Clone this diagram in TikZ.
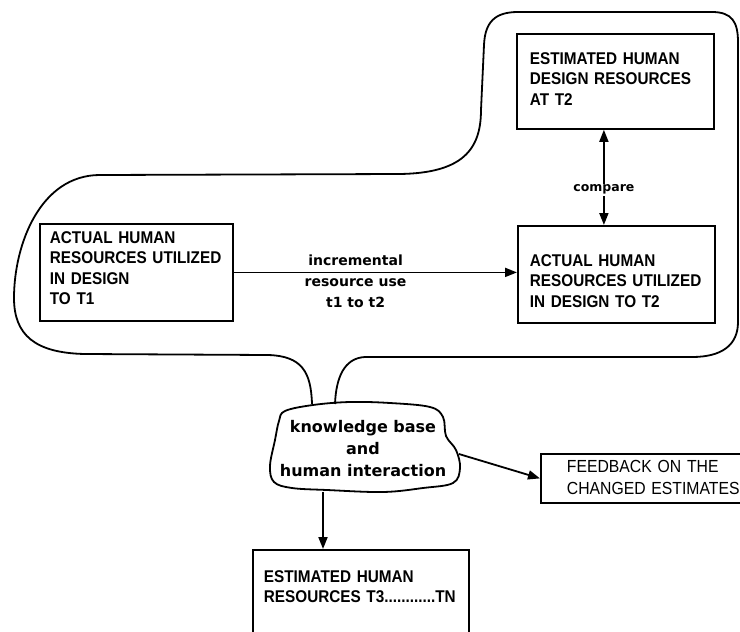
\documentclass[tikz,border=0pt]{standalone}
\usepackage{fontspec}
\setmainfont{Liberation Sans}
\newfontfamily\capsfont[FakeStretch=0.9]{Liberation Sans}
\newfontfamily\kbfont{DejaVu Sans}
\usetikzlibrary{arrows.meta}

\begin{document}
\begin{tikzpicture}[
  x=1pt, y=-1pt,
  line width=1.8pt,
  >={Triangle[length=12pt,width=9pt]},
  rbox/.style={draw,anchor=north west,align=left,inner ysep=0pt,
    font=\capsfont\bfseries\fontsize{17}{20.5}\selectfont},
  lbl/.style={font=\kbfont\bfseries\fontsize{14}{21}\selectfont,align=center},
  kbtext/.style={font=\kbfont\bfseries\fontsize{16}{22}\selectfont,align=center,
    minimum width=190pt,minimum height=90pt,inner sep=0pt}
]
\useasboundingbox (0,0) rectangle (740,632);
\clip (0,0) rectangle (740,632);

% boxes
\node[rbox,inner xsep=10pt,text width=173pt,text height=19.5pt,text depth=77.5pt] (act1) at (39,223) {ACTUAL HUMAN\\RESOURCES UTILIZED\\IN DESIGN\\TO T1};
\node[rbox,inner xsep=13pt,text width=171pt,text height=30.5pt,text depth=64.5pt] (est2) at (516,33) {ESTIMATED HUMAN\\DESIGN RESOURCES\\AT T2};
\node[rbox,inner xsep=12pt,text width=173pt,text height=40.5pt,text depth=56.5pt] (act2) at (517,225) {ACTUAL HUMAN\\RESOURCES UTILIZED\\IN DESIGN TO T2};
\node[rbox,inner xsep=11pt,text width=194pt,text height=32.5pt,text depth=80pt] (est3) at (252,549) {ESTIMATED HUMAN\\RESOURCES T3............TN};
\node[rbox,font=\capsfont\fontsize{17.5}{22}\selectfont,inner xsep=26pt,text width=230pt,text height=18.5pt,text depth=30.5pt] (fb) at (540,453) {FEEDBACK ON THE\\CHANGED ESTIMATES};

% knowledge base cloud
\node[kbtext] (kb) at (363,449) {knowledge base\\and\\human interaction};
\draw plot[smooth cycle,tension=0.6] coordinates {(285,411) (313,405) (350,402) (390,403) (430,407) (443,417) (446,436) (456,450) (460,468) (453,483) (423,488) (383,492) (327,490) (292,488) (274,482) (270,466) (275,440) (279,421)};

% outer loop
\draw (312,404) .. controls (311,372) and (302,356) .. (268,355)
  -- (85,354) .. controls (35,353) and (14,335) .. (14,298)
  .. controls (14,245) and (40,175) .. (100,175)
  -- (400,174) .. controls (462,173) and (481,150) .. (481,110)
  -- (484,45) .. controls (485,22) and (495,12) .. (518,12)
  -- (712,12) .. controls (732,12) and (738,22) .. (738,42)
  -- (738,322) .. controls (738,345) and (722,357) .. (692,357)
  -- (365,357) .. controls (344,358) and (336,378) .. (335,404);

% connectors
\draw[->] (act1.east) -- (act1.east -| act2.west)
  node[lbl,pos=0.43,yshift=-9pt] (incr) {incremental\\resource use\\t1 to t2};
\draw[<->] ([xshift=-11.5pt]est2.south) -- ([xshift=-12.5pt]act2.north)
  node[lbl,pos=0.63,fill=white,inner sep=1pt,font=\kbfont\bfseries\fontsize{12.5}{15}\selectfont] (cmp) {compare};
\draw[->] ([yshift=-5pt]kb.east) -- (fb.west);
\coordinate (kbS) at ([xshift=-40pt,yshift=3pt]kb.south);
\draw[->] (kbS) -- (kbS |- est3.north);
\end{tikzpicture}
\end{document}
